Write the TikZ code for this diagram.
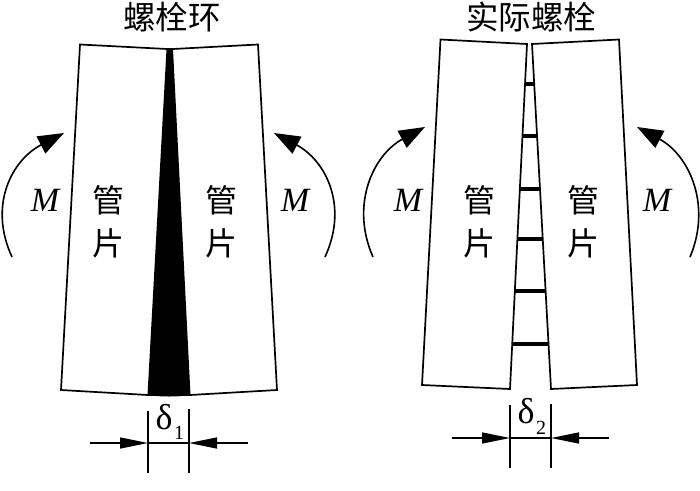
\documentclass[tikz,border=0pt]{standalone}
\usepackage{fontspec}
\usetikzlibrary{arrows.meta}
\setmainfont{Liberation Serif}
\newfontfamily\cjk{Noto Sans CJK SC}
\tikzset{
  panel/.style={draw=black,line width=1.7pt,line join=miter,fill=white},
  boltbar/.style={draw=black,line width=3.2pt},
  moment/.style={draw=black,line width=1.6pt,-{Triangle[length=26pt,width=19pt]}},
  dimtick/.style={draw=black,line width=1.4pt},
  dimarrow/.style={draw=black,line width=1.4pt,-{Triangle[length=28pt,width=11pt]}},
  title/.style={inner sep=0pt,font=\cjk\fontsize{32.5}{33}\selectfont},
  seg/.style={inner sep=0pt,font=\cjk\fontsize{32}{32}\selectfont},
  mlabel/.style={inner sep=0pt,font=\itshape\fontsize{34}{34}\selectfont},
  delta/.style={inner sep=0pt,font=\fontsize{36}{36}\selectfont},
  deltasub/.style={inner sep=0pt,font=\fontsize{20}{20}\selectfont}
}
\begin{document}
\begin{tikzpicture}[x=1pt,y=-1pt]
\useasboundingbox (0,0) rectangle (700,490);
% left panel
\draw[panel] (80,44.5) -- (167,49) -- (173,49) -- (258,44.5) -- (277,390) -- (190,395) -- (148,395) -- (61,390) -- cycle;
\fill[black] (166.5,49) -- (173,49) -- (190.5,395) .. controls (178,397) and (160,397) .. (147.5,395) -- cycle;
\node[title] (t1) at (172,17) {螺栓环};
\node[seg] (a1) at (108,200) {管};
\node[seg] (a2) at (108,243) {片};
\node[seg] (b1) at (221,200) {管};
\node[seg] (b2) at (221,243) {片};
\node[mlabel] (m1) at (45,200) {M};
\node[mlabel] (m2) at (295,200) {M};
\coordinate (m1s) at (12,257);
\coordinate (m1e) at (64,133);
\coordinate (m2s) at (325,257);
\coordinate (m2e) at (274,133);
\draw[moment] (m1s) .. controls (-12,205) and (12,160) .. (m1e);
\draw[moment] (m2s) .. controls (349,205) and (325,160) .. (m2e);
% left dim
\coordinate (d1a) at (148,411); \coordinate (d1b) at (148,473);
\coordinate (d1c) at (189,409); \coordinate (d1d) at (189,473);
\coordinate (d1l) at (90,443); \coordinate (d1lt) at (148,443);
\coordinate (d1r) at (248,443); \coordinate (d1rt) at (189,443);
\draw[dimtick] (d1a) -- (d1b);
\draw[dimtick] (d1c) -- (d1d);
\draw[dimtick] (d1lt) -- (d1rt);
\draw[dimarrow] (d1l) -- (d1lt);
\draw[dimarrow] (d1r) -- (d1rt);
\node[delta] (de1) at (164,417) {δ};
\node[deltasub] (s1) at (179,433) {1};
% right panel
\draw[panel] (440.5,39.5) -- (527,44) -- (510,389) -- (422,385) -- cycle;
\draw[panel] (532,44) -- (619,39.5) -- (637,385) -- (551,389) -- cycle;
\node[title] (t2) at (531,17) {实际螺栓};
\node[seg] (c1) at (479,200) {管};
\node[seg] (c2) at (479,243) {片};
\node[seg] (e1) at (583,200) {管};
\node[seg] (e2) at (583,243) {片};
\node[mlabel] (m3) at (408,200) {M};
\node[mlabel] (m4) at (657,200) {M};
\coordinate (m3s) at (373,257);
\coordinate (m3e) at (425,127);
\coordinate (m4s) at (690,257);
\coordinate (m4e) at (637,127);
\draw[moment] (m3s) .. controls (350,205) and (373,155) .. (m3e);
\draw[moment] (m4s) .. controls (712,205) and (689,155) .. (m4e);
% bolts
\foreach \yy in {84,136,189,239,291,344}{
  \path ({527-17*(\yy-44)/345},\yy) coordinate (ba) ({532+19*(\yy-44)/345},\yy) coordinate (bb);
  \draw[boltbar] (ba) -- (bb);
}
% right dim
\coordinate (d2a) at (510,405); \coordinate (d2b) at (510,468);
\coordinate (d2c) at (551,404); \coordinate (d2d) at (551,468);
\coordinate (d2l) at (452,438); \coordinate (d2lt) at (510,438);
\coordinate (d2r) at (609,438); \coordinate (d2rt) at (551,438);
\draw[dimtick] (d2a) -- (d2b);
\draw[dimtick] (d2c) -- (d2d);
\draw[dimtick] (d2lt) -- (d2rt);
\draw[dimarrow] (d2l) -- (d2lt);
\draw[dimarrow] (d2r) -- (d2rt);
\node[delta] (de2) at (526,411) {δ};
\node[deltasub] (s2) at (541,428) {2};
\end{tikzpicture}
\end{document}
